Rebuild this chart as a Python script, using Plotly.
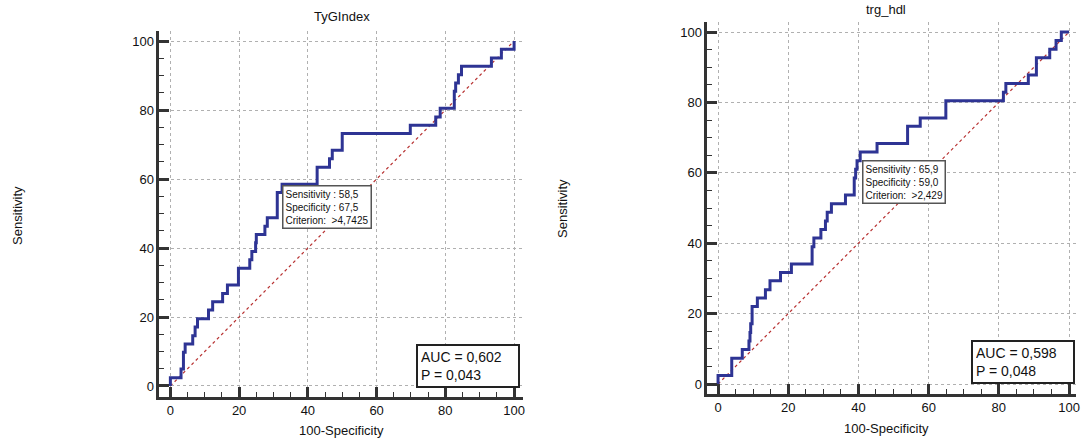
import plotly.graph_objects as go

# ---------------- data ----------------
tyg_fpr = [0, 0, 3.1, 3.8, 4.3, 6.5, 7.2, 7.9, 11.1, 12.3, 15.2, 16.6, 19.8, 23.1, 23.7,
           24.8, 25.0, 27.5, 28.2, 31.1, 32.5, 42.7, 46.3, 47.1, 50.0, 69.8, 77.2, 78.5,
           82.6, 83.0, 83.8, 84.7, 93.4, 96.3, 100]
tyg_tpr = [0, 2.4, 4.9, 9.8, 12.2, 14.6, 17.1, 19.5, 22.0, 24.4, 26.8, 29.3, 34.1, 36.6, 39.0,
           41.5, 43.9, 46.3, 48.8, 56.1, 58.5, 63.4, 65.9, 68.3, 73.2, 75.6, 78.0, 80.5,
           85.4, 87.8, 90.2, 92.7, 95.1, 97.6, 100]

trg_fpr = [0, 0, 3.9, 6.9, 8.8, 9.1, 9.3, 9.7, 11.2, 13.5, 14.8, 17.8, 20.9, 26.8, 27.3,
           29.3, 30.6, 31.1, 32.3, 36.3, 38.8, 39.2, 39.6, 40.5, 45.3, 54.0, 57.6, 64.9,
           81.3, 82.0, 88.4, 90.7, 94.5, 96.3, 97.8, 100]
trg_tpr = [0, 2.4, 7.3, 9.8, 12.2, 14.6, 17.1, 22.0, 24.4, 26.8, 29.3, 31.7, 34.1, 39.0, 41.5,
           43.9, 46.3, 48.8, 51.2, 53.7, 58.5, 61.0, 63.4, 65.9, 68.3, 73.2, 75.6, 80.5,
           82.9, 85.4, 87.8, 92.7, 95.1, 97.6, 100, 100]

diag = [0, 100]
tick_vals = [0, 20, 40, 60, 80, 100]

titles = ["TyGIndex", "trg_hdl"]
crit_texts = ["Sensitivity : 58,5<br>Specificity : 67,5<br>Criterion:  &gt;4,7425",
              "Sensitivity : 65,9<br>Specificity : 59,0<br>Criterion:  &gt;2,429"]
auc_texts = ["AUC = 0,602<br>P = 0,043", "AUC = 0,598<br>P = 0,048"]

# ---------------- layout helpers ----------------
W, H = 1085, 440
def px(x):
    return x / W
def py(y):
    return 1 - y / H

FONT = "Liberation Sans, Arial, sans-serif"
CURVE = "#2e3494"
DIAG = "#b83232"
AXC = "#333333"
GRID = "#b0b0b0"

fig = go.Figure()

panels = [
    dict(xd=(160, 525), yd=(31, 397), xr=[-3.19, 102.61], yr=[-3.19, 102.9],
         fpr=tyg_fpr, tpr=tyg_tpr, title_xy=(343, 17), ytitle_xy=(17, 215),
         xtitle_xy=(343, 430), crit_xy=(283, 185), auc_xy=(418, 344)),
    dict(xd=(710, 1080), yd=(22, 394), xr=[-3.04, 101.99], yr=[-2.84, 102.84],
         fpr=trg_fpr, tpr=trg_tpr, title_xy=(889, 9), ytitle_xy=(565, 208),
         xtitle_xy=(890, 428), crit_xy=(865, 160), auc_xy=(975, 340)),
]

annotations = []
for i, p in enumerate(panels):
    sfx = "" if i == 0 else str(i + 1)
    xa, ya = "x" + sfx, "y" + sfx
    fig.add_trace(go.Scatter(x=diag, y=diag, mode="lines", xaxis=xa, yaxis=ya,
                             line=dict(color=DIAG, width=1.2, dash="dot"),
                             hoverinfo="skip", showlegend=False))
    fig.add_trace(go.Scatter(x=p["fpr"], y=p["tpr"], mode="lines", xaxis=xa, yaxis=ya,
                             line=dict(color=CURVE, width=3, shape="hv"),
                             showlegend=False))
    axis_common = dict(
        tickvals=tick_vals, ticks="inside", ticklen=10, tickwidth=2.5, tickcolor=AXC,
        showline=True, linecolor=AXC, linewidth=2.5, mirror=False,
        showgrid=True, gridcolor=GRID, gridwidth=1, griddash="dot",
        zeroline=False, tickfont=dict(family=FONT, size=13, color="#111"),
        minor=dict(dtick=5, ticks="inside", ticklen=5, tickwidth=1.2, tickcolor=AXC,
                   showgrid=False),
        fixedrange=True,
    )
    fig.update_layout(**{
        "xaxis" + sfx: dict(domain=[px(p["xd"][0]), px(p["xd"][1])], range=p["xr"],
                            anchor=ya, **axis_common),
        "yaxis" + sfx: dict(domain=[py(p["yd"][1]), py(p["yd"][0])], range=p["yr"],
                            anchor=xa, **axis_common),
    })
    tx, ty = p["title_xy"]
    annotations.append(dict(text=titles[i], x=px(tx), y=py(ty), xref="paper", yref="paper",
                            showarrow=False, xanchor="center", yanchor="middle",
                            font=dict(family=FONT, size=13, color="#111")))
    ax_, ay_ = p["ytitle_xy"]
    annotations.append(dict(text="Sensitivity", x=px(ax_), y=py(ay_), xref="paper",
                            yref="paper", showarrow=False, textangle=-90,
                            xanchor="center", yanchor="middle",
                            font=dict(family=FONT, size=13, color="#111")))
    bx, by = p["xtitle_xy"]
    annotations.append(dict(text="100-Specificity", x=px(bx), y=py(by), xref="paper",
                            yref="paper", showarrow=False, xanchor="center",
                            yanchor="middle", font=dict(family=FONT, size=13, color="#111")))
    cx, cy = p["crit_xy"]
    annotations.append(dict(text=crit_texts[i], x=px(cx), y=py(cy), xref="paper",
                            yref="paper", showarrow=False, xanchor="left", yanchor="top",
                            align="left", bgcolor="white", bordercolor="#555555",
                            borderwidth=1.5, borderpad=2,
                            font=dict(family=FONT, size=10, color="#111")))
    ux, uy = p["auc_xy"]
    annotations.append(dict(text=auc_texts[i], x=px(ux), y=py(uy), xref="paper",
                            yref="paper", showarrow=False, xanchor="left", yanchor="top",
                            align="left", bgcolor="white", bordercolor="#222222",
                            borderwidth=2, borderpad=3, width=94,
                            font=dict(family=FONT, size=14, color="#111")))

fig.update_layout(width=W, height=H, margin=dict(l=0, r=0, t=0, b=0),
                  paper_bgcolor="white", plot_bgcolor="white",
                  annotations=annotations, showlegend=False)

# remove the default 8px page margin so the figure fills the 1085x440 window exactly
fig.write_html("out.html",
               config={"displayModeBar": False},
               post_script="document.body.style.margin='0px';"
                           "document.body.style.overflow='hidden';")
